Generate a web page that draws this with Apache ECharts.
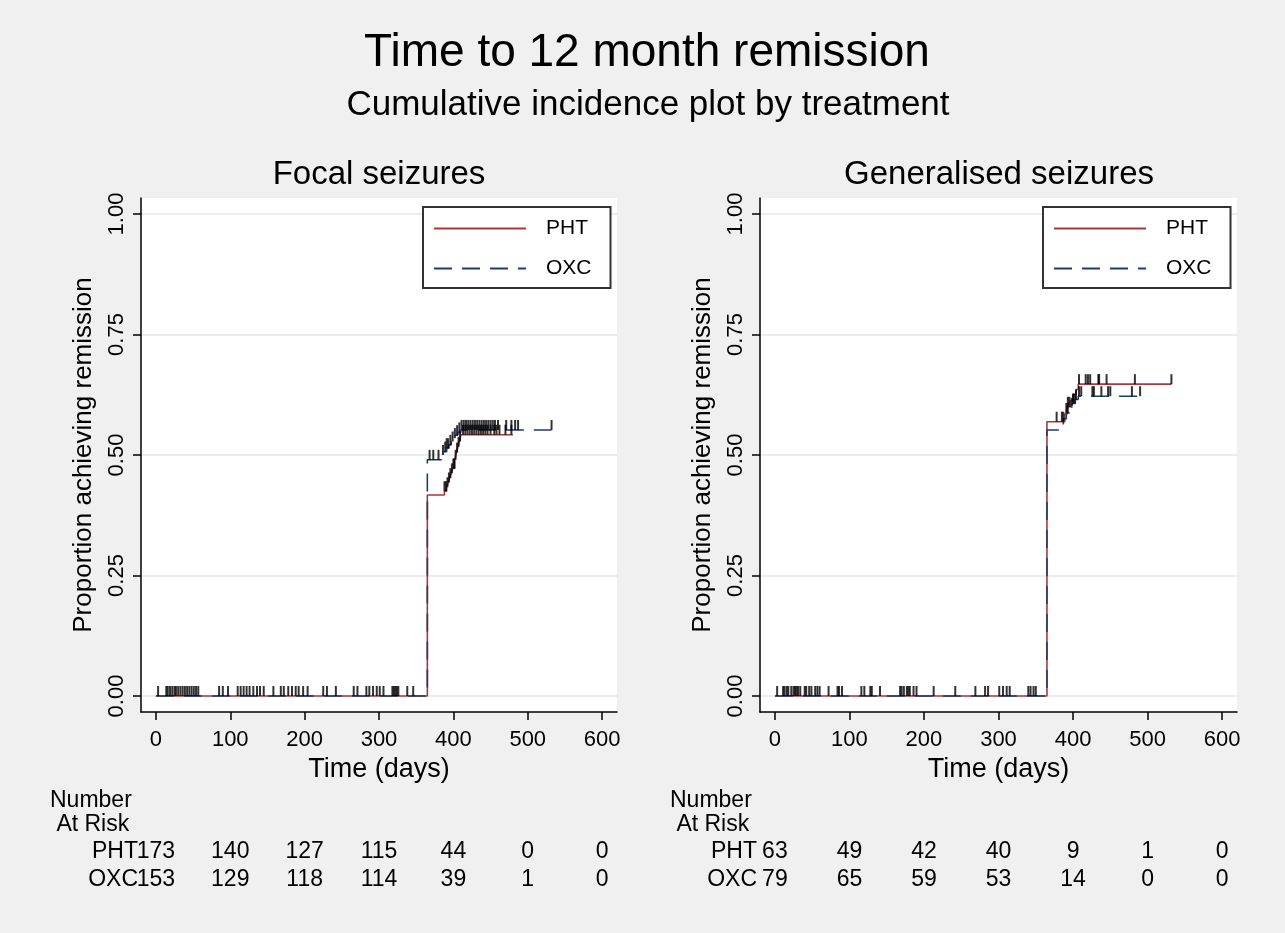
<!DOCTYPE html>
<html><head><meta charset="utf-8">
<script src="https://cdn.jsdelivr.net/npm/echarts@6/dist/echarts.min.js"></script>
<style>html,body{margin:0;padding:0;background:#f0f0f0}#c{width:1285px;height:933px}</style>
</head><body><div id="c"></div>
<script>
const FONT = '"Liberation Sans", Arial, sans-serif';
const xTicks = [0, 100, 200, 300, 400, 500, 600];
const yTicks = [0, 0.25, 0.5, 0.75, 1];
const groups = ['PHT', 'OXC'];

// ---- Focal seizures: step curves ----
const focalPHT_t = [0, 365, 388, 391, 393, 395, 397, 399, 402, 404, 406, 408, 410, 480];
const focalPHT_p = [0, 0.417, 0.425, 0.433, 0.443, 0.452, 0.462, 0.472, 0.49, 0.505, 0.517, 0.528, 0.542, 0.542];
const focalOXC_t = [0, 365, 384, 388, 391, 394, 397, 400, 403, 406, 410, 532];
const focalOXC_p = [0, 0.49, 0.50, 0.507, 0.514, 0.521, 0.528, 0.535, 0.541, 0.547, 0.552, 0.552];
// censoring times
const focalCensEarly = [3, 14, 16, 19, 22, 25, 27, 30, 33, 36, 39, 42, 45, 48, 51, 54, 57, 85, 90, 97, 110, 114, 118, 122, 126, 131, 136, 140, 145, 158, 168, 172, 178, 183, 188, 192, 198, 204, 225, 230, 242, 266, 271, 283, 287, 292, 297, 301, 306, 318, 320, 322, 324, 326, 338, 346];
const focalPHTCensLate = [388, 390, 392, 394, 396, 398, 400, 401, 403, 405, 407, 409, 413, 416, 419, 422, 425, 428, 431, 434, 437, 440, 443, 446, 450, 455, 458, 462, 470, 478];
const focalOXCCensLate = [368, 373, 380, 386, 389, 391, 393, 396, 399, 402, 405, 408, 411, 414, 417, 420, 423, 426, 429, 432, 435, 438, 441, 444, 447, 450, 453, 456, 460, 471, 478, 483, 487, 532];

// ---- Generalised seizures: step curves ----
const genPHT_t = [0, 365, 389, 392, 396, 400, 404, 407, 532];
const genPHT_p = [0, 0.569, 0.585, 0.600, 0.612, 0.625, 0.636, 0.647, 0.647];
const genOXC_t = [0, 365, 382, 387, 391, 395, 399, 403, 407, 490];
const genOXC_p = [0, 0.552, 0.563, 0.575, 0.587, 0.598, 0.607, 0.615, 0.622, 0.622];
const genCensEarly = [3, 11, 13, 16, 18, 22, 25, 27, 29, 31, 34, 40, 42, 46, 49, 54, 57, 60, 72, 84, 86, 90, 116, 120, 128, 130, 141, 168, 170, 173, 177, 179, 181, 186, 190, 213, 242, 269, 282, 286, 301, 306, 311, 315, 340, 343, 347, 350];
const genPHTCensLate = [378, 385, 387, 393, 395, 408, 417, 420, 423, 434, 435, 445, 483, 532];
const genOXCCensLate = [391, 393, 398, 400, 402, 404, 408, 411, 426, 428, 438, 447, 450, 479, 490];

// ---- Number at risk ----
const riskTimes = [0, 100, 200, 300, 400, 500, 600];
const focalRiskPHT = [173, 140, 127, 115, 44, 0, 0];
const focalRiskOXC = [153, 129, 118, 114, 39, 1, 0];
const genRiskPHT = [63, 49, 42, 40, 9, 1, 0];
const genRiskOXC = [79, 65, 59, 53, 14, 0, 0];

const RED = '#a8383a', BLUE = '#1f3a6e';

function zip(ts, ps) { return ts.map((t, i) => [t, ps[i]]); }
function stepAt(ts, ps, t) { let v = 0; for (let i = 0; i < ts.length; i++) { if (ts[i] <= t) v = ps[i]; } return v; }
function cens(ts, ps, times) { return times.map(t => [t, stepAt(ts, ps, t)]); }

const grids = [
  { left: 141, top: 198, width: 476, height: 514 },
  { left: 760, top: 198, width: 477, height: 514 }
];

function mainX(gi) {
  return {
    type: 'value', gridIndex: gi, min: -20, max: 620,
    name: 'Time (days)', nameLocation: 'middle', nameGap: 37,
    nameTextStyle: { fontSize: 27, color: '#000', fontFamily: FONT },
    axisLine: { show: true, onZero: false, lineStyle: { color: '#000', width: 1.5 } },
    axisTick: { show: true, length: 8, customValues: xTicks, lineStyle: { color: '#000', width: 1.5 } },
    axisLabel: { customValues: xTicks, fontSize: 22, color: '#000', fontFamily: FONT, margin: 17 },
    splitLine: { show: false }
  };
}
function mainY(gi) {
  return {
    type: 'value', gridIndex: gi, min: -0.0332, max: 1.0332,
    name: 'Proportion achieving remission', nameLocation: 'middle', nameGap: 44, nameRotate: 90,
    nameTextStyle: { fontSize: 26, color: '#000', fontFamily: FONT },
    axisLine: { show: true, onZero: false, lineStyle: { color: '#000', width: 1.5 } },
    axisTick: { show: true, length: 8, customValues: yTicks, lineStyle: { color: '#000', width: 1.5 } },
    axisLabel: { customValues: yTicks, rotate: 90, fontSize: 22, color: '#000', fontFamily: FONT, margin: 13,
      formatter: v => Number(v).toFixed(2) },
    splitLine: { show: true, lineStyle: { color: '#e6e6e6', width: 1.5 } }
  };
}
function tableX(gi) {
  return { type: 'value', gridIndex: gi, min: -20, max: 620, show: false };
}
function tableY(gi) {
  return {
    type: 'category', gridIndex: gi, data: groups, inverse: true,
    axisLine: { show: false }, axisTick: { show: false }, splitLine: { show: false },
    axisLabel: { interval: 0, fontSize: 23, color: '#000', fontFamily: FONT, margin: 3 }
  };
}

function lineSeries(name, ts, ps, ax, color, dashed) {
  return {
    name, type: 'line', step: 'end', xAxisIndex: ax, yAxisIndex: ax,
    data: zip(ts, ps), symbol: 'none', showSymbol: false, animation: false,
    lineStyle: { color, width: 1.6, type: dashed ? [18, 10] : 'solid' },
    itemStyle: { color }
  };
}
function censSeries(data, ax) {
  return {
    type: 'scatter', xAxisIndex: ax, yAxisIndex: ax, data,
    symbol: 'rect', symbolSize: [2, 10], symbolOffset: [0, -5],
    itemStyle: { color: '#000' }, silent: true, animation: false, z: 5
  };
}
function riskSeries(ax, pht, oxc) {
  const data = [];
  riskTimes.forEach((t, i) => { data.push([t, 'PHT', pht[i]]); data.push([t, 'OXC', oxc[i]]); });
  return {
    type: 'scatter', xAxisIndex: ax, yAxisIndex: ax, data, symbolSize: 1,
    itemStyle: { color: 'rgba(0,0,0,0)' }, silent: true, animation: false,
    label: { show: true, position: 'inside', formatter: p => String(p.value[2]),
      fontSize: 23, color: '#000', opacity: 1, textBorderWidth: 0, fontFamily: FONT }
  };
}
function legend(left) {
  return {
    data: groups, orient: 'vertical', left, top: 207,
    itemWidth: 92, itemHeight: 24, itemGap: 19,
    padding: [11, 19, 9, 10],
    itemStyle: { opacity: 0 },
    backgroundColor: '#fff', borderColor: '#333', borderWidth: 2,
    selectedMode: false,
    textStyle: { fontSize: 21, color: '#000', fontFamily: FONT, padding: [0, 0, 0, 15] }
  };
}
function txt(text, x, y, size, align) {
  return { type: 'text', x, y, silent: true,
    style: { text, fontSize: size, fontFamily: FONT, fill: '#000', align: align || 'center', verticalAlign: 'middle' } };
}

const chart = echarts.init(document.getElementById('c'), null, { renderer: 'canvas' });
chart.setOption({
  backgroundColor: '#f0f0f0',
  animation: false,
  grid: [
    Object.assign({ show: true, backgroundColor: '#fff', borderWidth: 0 }, grids[0]),
    Object.assign({ show: true, backgroundColor: '#fff', borderWidth: 0 }, grids[1]),
    { left: 141, top: 838, width: 476, height: 56 },
    { left: 760, top: 838, width: 477, height: 56 }
  ],
  xAxis: [mainX(0), mainX(1), tableX(2), tableX(3)],
  yAxis: [mainY(0), mainY(1), tableY(2), tableY(3)],
  legend: [legend(423), legend(1043)],
  graphic: [
    txt('Time to 12 month remission', 647, 53, 46),
    txt('Cumulative incidence plot by treatment', 648, 105, 35),
    txt('Focal seizures', 379, 175, 33),
    txt('Generalised seizures', 999, 175, 33),
    txt('Number', 50, 801, 23, 'left'),
    txt(' At Risk', 50, 825, 23, 'left'),
    txt('Number', 670, 801, 23, 'left'),
    txt(' At Risk', 670, 825, 23, 'left')
  ],
  series: [
    lineSeries('PHT', focalPHT_t, focalPHT_p, 0, RED, false),
    lineSeries('OXC', focalOXC_t, focalOXC_p, 0, BLUE, true),
    censSeries(focalCensEarly.map(t => [t, 0]), 0),
    censSeries(cens(focalPHT_t, focalPHT_p, focalPHTCensLate), 0),
    censSeries(cens(focalOXC_t, focalOXC_p, focalOXCCensLate), 0),
    lineSeries('PHT', genPHT_t, genPHT_p, 1, RED, false),
    lineSeries('OXC', genOXC_t, genOXC_p, 1, BLUE, true),
    censSeries(genCensEarly.map(t => [t, 0]), 1),
    censSeries(cens(genPHT_t, genPHT_p, genPHTCensLate), 1),
    censSeries(cens(genOXC_t, genOXC_p, genOXCCensLate), 1),
    riskSeries(2, focalRiskPHT, focalRiskOXC),
    riskSeries(3, genRiskPHT, genRiskOXC)
  ]
});
</script>
</body></html>
